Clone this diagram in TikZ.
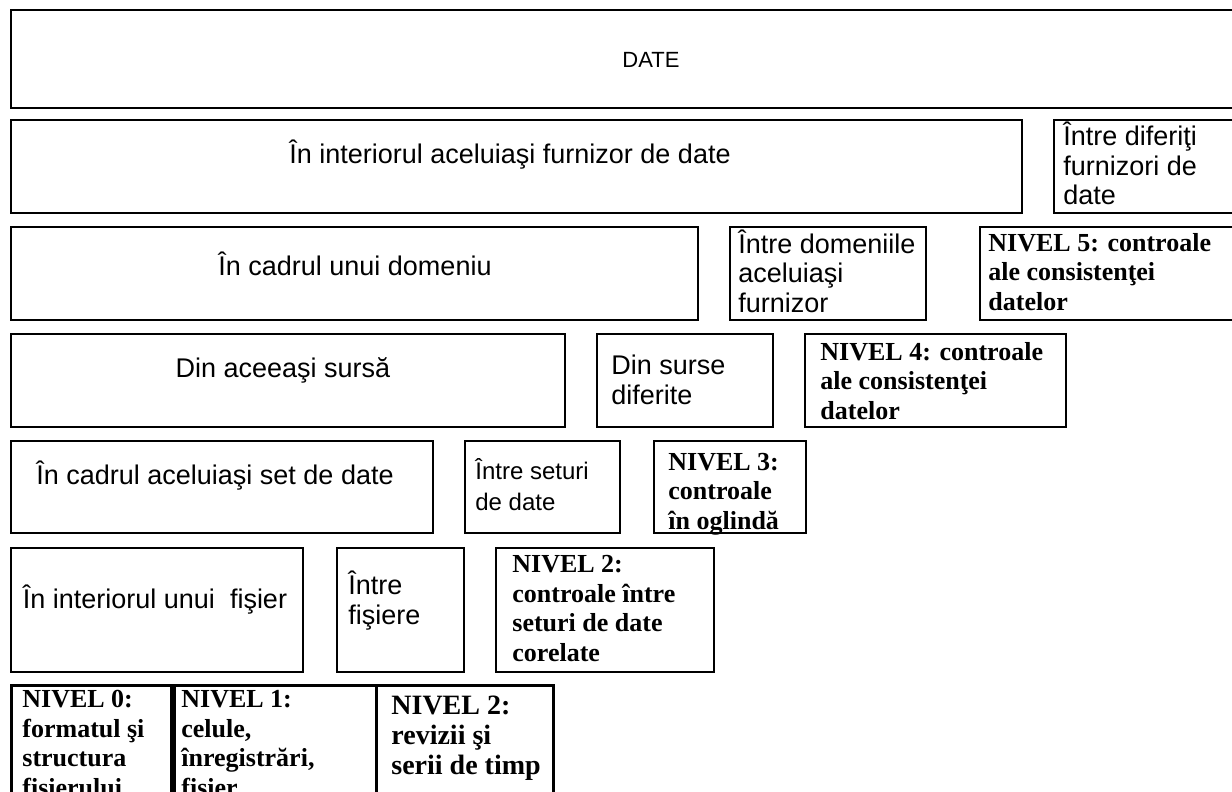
\documentclass[tikz,border=0pt]{standalone}
\usepackage{fontspec}
\setmainfont{Liberation Serif}
\newfontfamily\arialf{Liberation Sans}
\usetikzlibrary{fit}
\begin{document}
\begin{tikzpicture}[x=0.5pt,y=-0.5pt,
  box/.style={draw, line width=1.2pt, inner sep=0pt},
  thickbox/.style={draw, line width=1.5pt, inner sep=0pt},
  sanslbl/.style={font=\arialf\fontsize{13.5}{14.75}\selectfont, inner sep=0pt},
  sansml/.style={font=\arialf\fontsize{13.5}{14.75}\selectfont, inner sep=0pt, align=left, anchor=base west},
  niv/.style={font=\bfseries\fontsize{13}{14.75}\selectfont, inner sep=0pt, align=left, anchor=base west},
]
\useasboundingbox (0,0) rectangle (1232,792);
% row 1
\node[box, fit={(11,10) (1260,108)}] (R1) {};
\node[font=\arialf\fontsize{11}{13}\selectfont, inner sep=0pt] (tR1) at (651,60) {DATE};
% row 2
\node[box, fit={(11,120) (1022,213)}] (A) {};
\node[sanslbl] (tA) at (510,155) {În interiorul aceluiaşi furnizor de date};
\node[box, fit={(1054,120) (1260,213)}] (B) {};
\node[sansml] (tB) at (1063,205) {Între diferiţi\\furnizori de\\date};
% row 3
\node[box, fit={(11,227) (698,320)}] (C) {};
\node[sanslbl] (tC) at (355,264) {În cadrul unui domeniu};
\node[box, fit={(730,227) (926,320)}] (D) {};
\node[sansml] (tD) at (738,312) {Între domeniile\\aceluiaşi\\furnizor};
\node[box, fit={(980,227) (1260,320)}] (E) {};
\node[niv] (tE) at (988,310) {NIVEL 5: controale\\ale consistenţei\\datelor};
% row 4
\node[box, fit={(11,334) (565,427)}] (F) {};
\node[sanslbl] (tF) at (283,370) {Din aceeaşi sursă};
\node[box, fit={(597,334) (773,427)}] (G) {};
\node[sansml] (tG) at (611,404) {Din surse\\diferite};
\node[box, fit={(805,334) (1066,427)}] (H) {};
\node[niv] (tH) at (820,419) {NIVEL 4: controale\\ale consistenţei\\datelor};
% row 5
\node[box, fit={(11,441) (433,533)}] (I) {};
\node[sanslbl] (tI) at (215,476) {În cadrul aceluiaşi set de date};
\node[box, fit={(465,441) (620,533)}] (J) {};
\node[sansml, font=\arialf\fontsize{12}{15.5}\selectfont] (tJ) at (475,510) {Între seturi\\de date};
\node[box, fit={(654,441) (806,533)}] (K) {};
\node[niv] (tK) at (668,529) {NIVEL 3:\\controale\\în oglindă};
% row 6
\node[box, fit={(11,548) (303,672)}] (L) {};
\node[sanslbl] (tL) at (155,600) {În interiorul unui\ \ fişier};
\node[box, fit={(337,548) (464,672)}] (M) {};
\node[sansml] (tM) at (348,624) {Între\\fişiere};
\node[box, fit={(496,548) (714,672)}] (N) {};
\node[niv] (tN) at (512,661) {NIVEL 2:\\controale între\\seturi de date\\corelate};
% row 7
\node[thickbox, fit={(11,685) (171,820)}] (O) {};
\node[niv] (tO) at (22,796) {NIVEL 0:\\formatul şi\\structura\\fişierului};
\node[thickbox, fit={(174,685) (376,820)}] (P) {};
\node[niv] (tP) at (181,796) {NIVEL 1:\\celule,\\înregistrări,\\fişier};
\node[thickbox, fit={(376,685) (553,820)}] (Q) {};
\node[niv, font=\bfseries\fontsize{14}{15}\selectfont] (tQ) at (391,774) {NIVEL 2:\\revizii şi\\serii de timp};
\end{tikzpicture}
\end{document}
